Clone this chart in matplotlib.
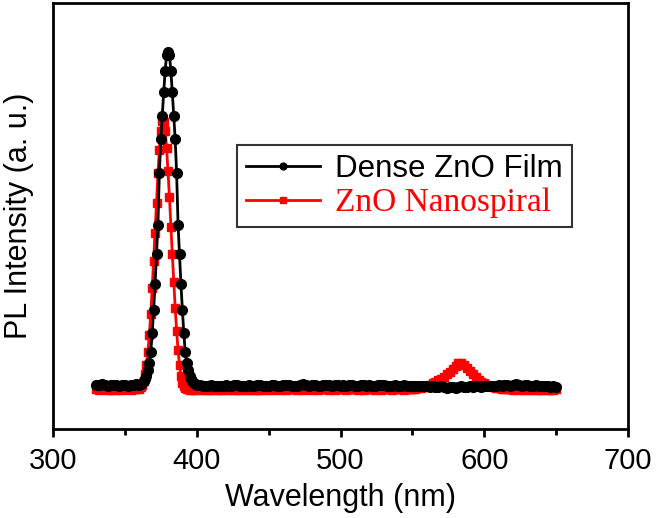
import matplotlib
matplotlib.use("Agg")
import matplotlib.pyplot as plt
from matplotlib.ticker import MultipleLocator

plt.rcParams['font.family'] = ['Liberation Sans', 'DejaVu Sans']

# wavelength sampling grid (nm): 2 nm steps on the baseline, 1 nm steps across the UV peak
wavelength = list(range(330, 360, 2)) + list(range(360, 401)) + list(range(402, 651, 2))

# Dense ZnO Film (a.u.)
dense_film = (
    [104, 103, 105, 104, 102, 103, 104, 103, 102, 104, 103, 102, 103, 104, 105]
    + [104, 106, 108, 112, 117, 125, 138, 155, 180, 225, 280, 340, 410, 480, 600, 680, 735, 790, 840, 878,
       885, 878, 840, 790, 735, 680, 600, 480, 410, 340, 280, 225, 180, 155, 138, 125, 117, 112, 108, 106, 104]
    + [103, 102, 101, 102, 103, 101, 100, 101, 102, 103, 102, 101, 103, 104, 102, 101, 102, 103, 101, 102, 104, 103, 102, 101, 102]
    + [103, 104, 102, 101, 103, 104, 103, 102, 101, 102, 104, 105, 103, 102, 103, 104, 102, 101, 103, 104, 103, 102, 104, 103, 102]
    + [103, 102, 104, 103, 101, 102, 103, 104, 102, 103, 102, 101, 103, 104, 103, 102, 101, 102, 103, 102, 101, 103, 102, 101, 100]
    + [101, 100, 102, 101, 100, 99, 100, 98, 99, 100, 98, 97, 99, 98, 97, 99, 100, 98, 99, 100, 99, 101, 100, 99, 100]
    + [101, 102, 100, 101, 103, 102, 104, 103, 102, 104, 105, 103, 102, 104, 103, 101, 102, 103, 101, 100, 102, 101, 99, 100, 98]
)

# ZnO Nanospiral (a.u.)
nanospiral = (
    [93, 92, 93, 94, 92, 91, 93, 92, 93, 92, 94, 93, 92, 93, 94]
    + [95, 98, 103, 112, 128, 150, 180, 220, 270, 330, 395, 460, 530, 600, 655, 700, 722, 720, 700, 660,
       605, 545, 475, 410, 345, 285, 230, 185, 150, 125, 108, 100, 96, 94, 93, 92, 93, 92, 93, 92, 93]
    + [92, 93, 92, 91, 92, 93, 92, 91, 92, 93, 92, 93, 92, 91, 92, 93, 92, 92, 93, 92, 91, 92, 93, 92, 93]
    + [92, 93, 94, 92, 93, 92, 93, 94, 93, 92, 93, 92, 94, 93, 92, 93, 92, 93, 94, 93, 92, 93, 92, 93, 94]
    + [93, 92, 93, 94, 93, 92, 93, 92, 93, 94, 93, 92, 93, 92, 93, 94, 93, 92, 93, 94, 93, 92, 93, 94, 95]
    + [95, 96, 97, 99, 101, 104, 107, 110, 114, 118, 123, 128, 134, 141, 148, 154, 155, 150, 143, 136, 129, 122, 116, 111, 107]
    + [104, 101, 99, 97, 96, 95, 94, 93, 93, 92, 93, 92, 93, 92, 93, 92, 93, 92, 91, 92, 93, 92, 91, 92, 93]
)

fig = plt.figure(figsize=(6.57, 5.18), dpi=100)
ax = fig.add_axes([53 / 657, 89 / 518, 575 / 657, 426 / 518])

ax.plot(wavelength, nanospiral, color='#ff0000', lw=2, marker='s', ms=6,
        label='ZnO Nanospiral', zorder=2)
ax.plot(wavelength, dense_film, color='black', lw=2, marker='o', ms=7,
        label='Dense ZnO Film', zorder=3)

ax.set_xlim(300, 700)
ax.set_ylim(0, 1000)
ax.xaxis.set_major_locator(MultipleLocator(100))
ax.xaxis.set_minor_locator(MultipleLocator(50))
ax.set_yticks([])
ax.tick_params(axis='x', which='major', direction='out', length=6, width=2, labelsize=21, pad=7)
ax.tick_params(axis='x', which='minor', direction='out', length=4, width=2)
for sp in ax.spines.values():
    sp.set_linewidth(2)

ax.set_xlabel('Wavelength (nm)', fontsize=22, labelpad=6)
ax.set_ylabel('PL Intensity (a. u.)', fontsize=22, labelpad=14)

# legend: dense film first, nanospiral second
handles, labels = ax.get_legend_handles_labels()
leg = ax.legend(handles[::-1], labels[::-1], loc='upper left', bbox_to_anchor=(0.32, 0.667),
                borderaxespad=0, fontsize=22, numpoints=1, markerscale=0.7, handlelength=2.4,
                labelspacing=0.1, borderpad=0.3, handletextpad=0.5,
                fancybox=False, shadow=False, framealpha=1)
leg.get_frame().set_edgecolor('#333333')
leg.get_frame().set_linewidth(1.5)
texts = leg.get_texts()
texts[0].set_fontsize(22.5)
texts[1].set_color('#ff0000')
texts[1].set_family(['Liberation Serif', 'DejaVu Serif'])
texts[1].set_fontsize(24)

fig.savefig('out.png', dpi=100)
